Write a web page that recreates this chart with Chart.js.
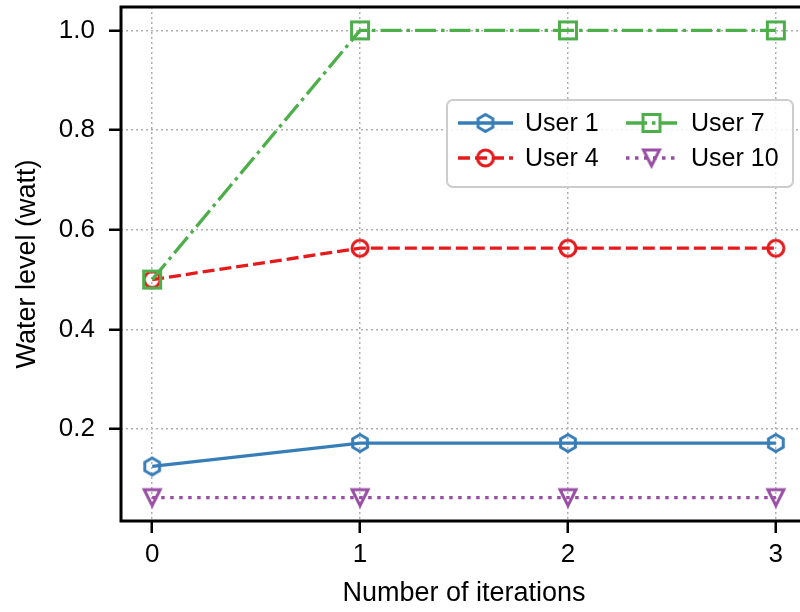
<!DOCTYPE html>
<html>
<head>
<meta charset="utf-8">
<script src="https://cdn.jsdelivr.net/npm/chart.js@4/dist/chart.umd.min.js"></script>
<style>
  html, body { margin: 0; padding: 0; overflow: hidden; background: #fff; }
  canvas { display: block; }
</style>
</head>
<body>
<canvas id="waterChart" width="820" height="612"></canvas>
<script>
// Données
const iterations = [0, 1, 2, 3];
const userNames = ['User 1', 'User 4', 'User 7', 'User 10'];
const user1 = [0.125, 0.172, 0.172, 0.172];
const user4 = [0.5, 0.563, 0.563, 0.563];
const user7 = [0.5, 1.0, 1.0, 1.0];
const user10 = [0.0625, 0.0625, 0.0625, 0.0625];
const xTicks = [0, 1, 2, 3];
const yTicks = [0.2, 0.4, 0.6, 0.8, 1.0];

const FONT = '"Liberation Sans", Arial, Helvetica, sans-serif';

// Marqueurs creux dessinés sur un petit canvas
function makeMarker(shape, color) {
    const c = document.createElement('canvas');
    c.width = 28; c.height = 28;
    const g = c.getContext('2d');
    g.translate(14, 14);
    g.strokeStyle = color;
    g.lineWidth = 3;
    g.lineJoin = 'miter';
    g.beginPath();
    if (shape === 'hexagon') {
        const r = 8.5;
        for (let k = 0; k < 6; k++) {
            const a = -Math.PI / 2 + k * Math.PI / 3;
            const px = r * Math.cos(a), py = r * Math.sin(a);
            k === 0 ? g.moveTo(px, py) : g.lineTo(px, py);
        }
        g.closePath();
    } else if (shape === 'circle') {
        g.arc(0, 0, 8, 0, Math.PI * 2);
    } else if (shape === 'square') {
        g.rect(-8.5, -8.5, 17, 17);
    } else if (shape === 'triangleDown') {
        g.moveTo(-8, -8);
        g.lineTo(8, -8);
        g.lineTo(0, 8);
        g.closePath();
    }
    g.stroke();
    return c;
}

const series = [
    { label: userNames[0], values: user1, color: '#377eb8', dash: [], marker: 'hexagon' },
    { label: userNames[1], values: user4, color: '#e41a1c', dash: [12, 5], marker: 'circle' },
    { label: userNames[2], values: user7, color: '#4daf4a', dash: [21, 5, 3.5, 5], marker: 'square' },
    { label: userNames[3], values: user10, color: '#984ea3', dash: [3.5, 5.5], marker: 'triangleDown' }
];
series.forEach(s => { s.img = makeMarker(s.marker, s.color); });

// Cadre noir autour de la zone de tracé + légende dans le graphique
const framePlugin = {
    id: 'frameAndLegend',
    afterDraw(chart) {
        const { ctx, chartArea: a } = chart;
        ctx.save();
        ctx.strokeStyle = '#000';
        ctx.lineWidth = 3;
        ctx.setLineDash([]);
        ctx.strokeRect(a.left, a.top, a.right - a.left, a.bottom - a.top);

        // Boîte de légende
        const bx = a.right - 360, by = a.top + 93, bw = 346, bh = 87;
        ctx.beginPath();
        ctx.roundRect(bx, by, bw, bh, 6);
        ctx.fillStyle = 'rgba(255,255,255,0.85)';
        ctx.fill();
        ctx.strokeStyle = '#cccccc';
        ctx.lineWidth = 2;
        ctx.stroke();

        const cols = [{ x0: bx + 11, x1: bx + 66, tx: bx + 78 }, { x0: bx + 179, x1: bx + 230, tx: bx + 244 }];
        const rows = [by + 23, by + 58];
        ctx.font = '25px ' + FONT;
        ctx.textBaseline = 'middle';
        ctx.textAlign = 'left';
        series.forEach((s, i) => {
            const col = cols[Math.floor(i / 2)];
            const y = rows[i % 2];
            ctx.strokeStyle = s.color;
            ctx.lineWidth = 3.3;
            ctx.setLineDash(s.dash);
            ctx.beginPath();
            ctx.moveTo(col.x0, y);
            ctx.lineTo(col.x1, y);
            ctx.stroke();
            ctx.setLineDash([]);
            const mx = (col.x0 + col.x1) / 2;
            ctx.drawImage(s.img, mx - s.img.width / 2, y - s.img.height / 2);
            ctx.fillStyle = '#000';
            ctx.fillText(s.label, col.tx, y + 1);
        });
        ctx.restore();
    }
};

const gridOpts = {
    color: '#b0b0b0',
    lineWidth: 1.5,
    tickColor: '#000',
    tickWidth: 2.5,
    tickLength: 12,
    tickBorderDash: []
};

const ctx = document.getElementById('waterChart').getContext('2d');
new Chart(ctx, {
    type: 'line',
    data: {
        datasets: series.map((s, i) => ({
            label: s.label,
            data: iterations.map((x, j) => ({ x: x, y: s.values[j] })),
            borderColor: s.color,
            backgroundColor: 'rgba(0,0,0,0)',
            borderWidth: 3.3,
            borderDash: s.dash,
            pointStyle: s.img,
            pointRadius: 9,
            tension: 0,
            order: 4 - i
        }))
    },
    options: {
        responsive: false,
        animation: false,
        devicePixelRatio: 1,
        layout: { autoPadding: false, padding: { top: 7, right: 13, left: 0, bottom: 0 } },
        plugins: {
            legend: { display: false },
            tooltip: { enabled: false }
        },
        scales: {
            x: {
                type: 'linear',
                min: -0.15,
                max: 3.15,
                afterFit(scale) {
                    scale.height = 91;
                    scale.paddingLeft = 0;
                    scale.paddingRight = 0;
                },
                afterBuildTicks(scale) { scale.ticks = xTicks.map(v => ({ value: v })); },
                ticks: {
                    color: '#000',
                    font: { family: FONT, size: 26 },
                    padding: 6,
                    callback: v => String(v)
                },
                grid: gridOpts,
                border: { display: false, dash: [2, 3] },
                title: {
                    display: true,
                    text: 'Number of iterations',
                    color: '#000',
                    font: { family: FONT, size: 27 },
                    padding: { top: 0, bottom: 2 }
                }
            },
            y: {
                type: 'linear',
                min: 0.0156,
                max: 1.047,
                afterFit(scale) {
                    scale.width = 121;
                    scale.paddingTop = 0;
                    scale.paddingBottom = 0;
                },
                afterBuildTicks(scale) { scale.ticks = yTicks.map(v => ({ value: v })); },
                ticks: {
                    color: '#000',
                    font: { family: FONT, size: 26 },
                    padding: 14,
                    callback: v => v.toFixed(1)
                },
                grid: gridOpts,
                border: { display: false, dash: [2, 3] },
                title: {
                    display: true,
                    text: 'Water level (watt)',
                    color: '#000',
                    font: { family: FONT, size: 27 },
                    padding: { top: 11, bottom: 0 }
                }
            }
        }
    },
    plugins: [framePlugin]
});
</script>
</body>
</html>
